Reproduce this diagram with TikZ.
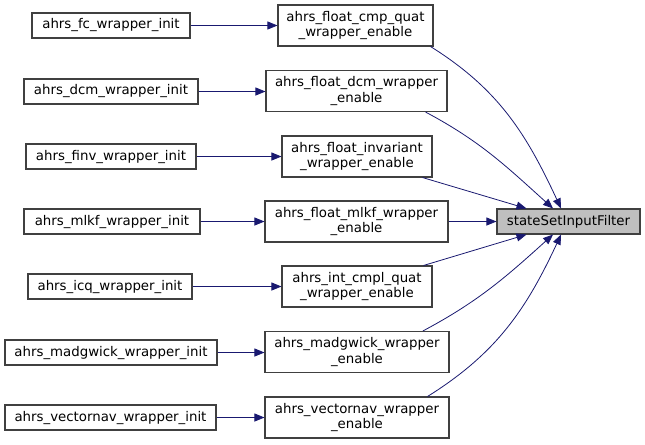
\documentclass[tikz,border=0pt]{standalone}
\usepackage{xcolor}
\usepackage{fontspec}
\setmainfont{DejaVu Sans}
\usepackage{tikz}
\usetikzlibrary{arrows.meta}

\definecolor{edgeblue}{HTML}{191970}
\definecolor{boxline}{HTML}{404040}
\definecolor{hilite}{HTML}{BFBFBF}

\begin{document}
\begin{tikzpicture}[x=0.75pt, y=-0.75pt,
    every node/.style={font=\fontsize{10}{11.5}\selectfont},
    fn/.style={draw=boxline, thick, fill=white, align=center, inner sep=1pt, minimum height=18.75pt},
    fntwo/.style={fn, minimum height=30.75pt},
    edge/.style={draw=edgeblue, semithick, -{Triangle[length=7.5pt, width=6pt]}}]
    \useasboundingbox (0,0) rectangle (645,444);

    % Target function
    \node[fn, fill=hilite, minimum width=107.25pt] (t) at (568.5,221.5) {stateSetInputFilter};

    % Wrapper enable functions
    \node[fntwo, minimum width=116.25pt] (m1) at (355.5,25.5) {ahrs\_float\_cmp\_quat\\\_wrapper\_enable};
    \node[fntwo, minimum width=135.75pt] (m2) at (356.5,91) {ahrs\_float\_dcm\_wrapper\\\_enable};
    \node[fntwo, minimum width=112.5pt] (m3) at (357,156.5) {ahrs\_float\_invariant\\\_wrapper\_enable};
    \node[fntwo, minimum width=137.25pt] (m4) at (356.5,221.5) {ahrs\_float\_mlkf\_wrapper\\\_enable};
    \node[fntwo, minimum width=112.5pt] (m5) at (357,286.5) {ahrs\_int\_cmpl\_quat\\\_wrapper\_enable};
    \node[fntwo, minimum width=138pt] (m6) at (357,352) {ahrs\_madgwick\_wrapper\\\_enable};
    \node[fntwo, minimum width=138pt] (m7) at (357,417.5) {ahrs\_vectornav\_wrapper\\\_enable};

    % Init functions
    \node[fn, minimum width=118.5pt] (i1) at (111,25.5) {ahrs\_fc\_wrapper\_init};
    \node[fn, minimum width=130.5pt] (i2) at (111,91.5) {ahrs\_dcm\_wrapper\_init};
    \node[fn, minimum width=127.5pt] (i3) at (111,156.5) {ahrs\_finv\_wrapper\_init};
    \node[fn, minimum width=132pt] (i4) at (112,221.5) {ahrs\_mlkf\_wrapper\_init};
    \node[fn, minimum width=123pt] (i5) at (110,286.5) {ahrs\_icq\_wrapper\_init};
    \node[fn, minimum width=159pt] (i6) at (111,352.5) {ahrs\_madgwick\_wrapper\_init};
    \node[fn, minimum width=158.25pt] (i7) at (110.5,417.5) {ahrs\_vectornav\_wrapper\_init};

    % Calls into the wrappers
    \foreach \k in {1,...,7}
        \draw[edge] (i\k.east) -- (i\k.east -| m\k.west);

    % Calls into stateSetInputFilter
    \draw[edge] ([xshift=-2.25pt]m1.south east) to[out=-32, in=115] ([xshift=-5.6pt]t.north);
    \draw[edge] ([xshift=-16.5pt]m2.south east) to[out=-28, in=138] ([xshift=-11.6pt]t.north);
    \draw[edge] ([xshift=-7.5pt]m3.south east) -- ([xshift=22.5pt]t.north west);
    \draw[edge] (m4.east) -- (t.west);
    \draw[edge] ([xshift=-6.75pt]m5.north east) -- ([xshift=22.5pt]t.south west);
    \draw[edge] ([xshift=-20pt]m6.north east) to[out=28, in=-138] ([xshift=-11.6pt]t.south);
    \draw[edge] ([xshift=-16.5pt]m7.north east) to[out=32, in=-115] ([xshift=-5.6pt]t.south);
\end{tikzpicture}
\end{document}
